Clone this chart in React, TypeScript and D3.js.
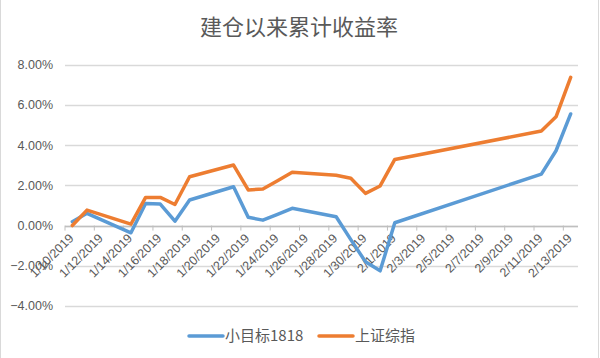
import React from "react";
import * as d3 from "d3";

const title = "建仓以来累计收益率";
const dates = [
  "2019-01-10", "2019-01-11", "2019-01-14", "2019-01-15", "2019-01-16", "2019-01-17",
  "2019-01-18", "2019-01-21", "2019-01-22", "2019-01-23", "2019-01-24", "2019-01-25",
  "2019-01-28", "2019-01-29", "2019-01-30", "2019-01-31", "2019-02-01", "2019-02-11",
  "2019-02-12", "2019-02-13",
];
const seriesNames = ["小目标1818", "上证综指"];
const xiaomubiao = [0.19, 0.61, -0.36, 1.10, 1.07, 0.22, 1.27, 1.93, 0.41, 0.27, 0.56, 0.86, 0.44, -0.70, -1.80, -2.25, 0.14, 2.56, 3.72, 5.55];
const shangzheng = [0.00, 0.77, 0.07, 1.40, 1.40, 1.05, 2.43, 3.01, 1.77, 1.82, 2.23, 2.65, 2.50, 2.35, 1.60, 1.97, 3.29, 4.70, 5.41, 7.37];
const yTicks = [-4, -2, 0, 2, 4, 6, 8];
const firstLabelDate = "2019-01-10";
const lastLabelDate = "2019-02-13";

const W = 600;
const H = 358;
const DAY = 86400000;
const parse = (s: string) => new Date(s + "T00:00:00Z");

export default function App() {
  const colors = ["#5B9BD5", "#ED7D31"];
  const font = "'Liberation Sans', Arial, 'Noto Sans CJK SC', sans-serif";
  const cjk = "'Noto Sans CJK SC', 'Liberation Sans', sans-serif";
  const t0 = parse(firstLabelDate).getTime() - DAY / 2;
  const t1 = parse(lastLabelDate).getTime() + DAY / 2;
  const x = d3.scaleUtc().domain([new Date(t0), new Date(t1)]).range([65, 578]);
  const y = d3.scaleLinear().domain([-4, 8]).range([306, 64.7]);

  const labelDates = d3.utcDay.range(parse(firstLabelDate), new Date(parse(lastLabelDate).getTime() + 1), 1)
    .filter((_, i) => i % 2 === 0);
  const tickPos = labelDates.map((d) => new Date(d.getTime() - DAY / 2));

  const pts = dates.map(parse);
  const series = [xiaomubiao, shangzheng];
  const line = d3.line<[Date, number]>().x((d) => x(d[0])).y((d) => y(d[1]));
  const fmt = d3.timeFormat;
  const label = (d: Date) => `${d.getUTCMonth() + 1}/${d.getUTCDate()}/${d.getUTCFullYear()}`;

  return (
    <div style={{ position: "fixed", left: 0, top: 0 }}>
      <svg width={W} height={H} style={{ display: "block", background: "#fff" }}>
        <rect x={0} y={0} width={W} height={H} fill="#fff" />
        <line x1={0.5} x2={0.5} y1={0} y2={H} stroke="#D9D9D9" />
        <line x1={W - 1.5} x2={W - 1.5} y1={0} y2={H} stroke="#D9D9D9" />
        <text x={299} y={35} textAnchor="middle" fontFamily={cjk} fontSize={22} fill="#595959">
          {title}
        </text>
        {yTicks.map((t) => (
          <g key={t}>
            <line x1={65} x2={578} y1={Math.round(y(t)) + 0.5} y2={Math.round(y(t)) + 0.5} stroke="#D9D9D9" strokeWidth={1.3} />
            <text x={53} y={y(t)} dy="0.35em" textAnchor="end" fontFamily={font} fontSize={12.5} fill="#595959">
              {d3.format(".2f")(t) + "%"}
            </text>
          </g>
        ))}
        <line x1={65} x2={578} y1={Math.round(y(0)) + 0.5} y2={Math.round(y(0)) + 0.5} stroke="#BFBFBF" strokeWidth={1.3} />
        {tickPos.map((d, i) => (
          <line key={i} x1={x(d)} x2={x(d)} y1={y(0)} y2={y(0) + 5} stroke="#BFBFBF" strokeWidth={1} />
        ))}
        {labelDates.map((d, i) => (
          <text
            key={i}
            transform={`translate(${x(d) + 2},${239}) rotate(-45)`}
            textAnchor="end"
            fontFamily={font}
            fontSize={12.5}
            fill="#595959"
          >
            {label(d)}
          </text>
        ))}
        {series.map((vals, si) => (
          <path
            key={si}
            d={line(pts.map((p, i) => [p, vals[i]] as [Date, number])) || ""}
            fill="none"
            stroke={colors[si]}
            strokeWidth={3.5}
            strokeLinejoin="round"
            strokeLinecap="round"
          />
        ))}
        {seriesNames.map((n, i) => {
          const lx = i === 0 ? 189 : 319;
          return (
            <g key={n}>
              <line x1={lx} x2={lx + 34} y1={336} y2={336} stroke={colors[i]} strokeWidth={3.5} strokeLinecap="round" />
              <text x={lx + 36} y={336} dy="0.36em" fontFamily={cjk} fontSize={15} fill="#595959">
                {n}
              </text>
            </g>
          );
        })}
      </svg>
    </div>
  );
}
